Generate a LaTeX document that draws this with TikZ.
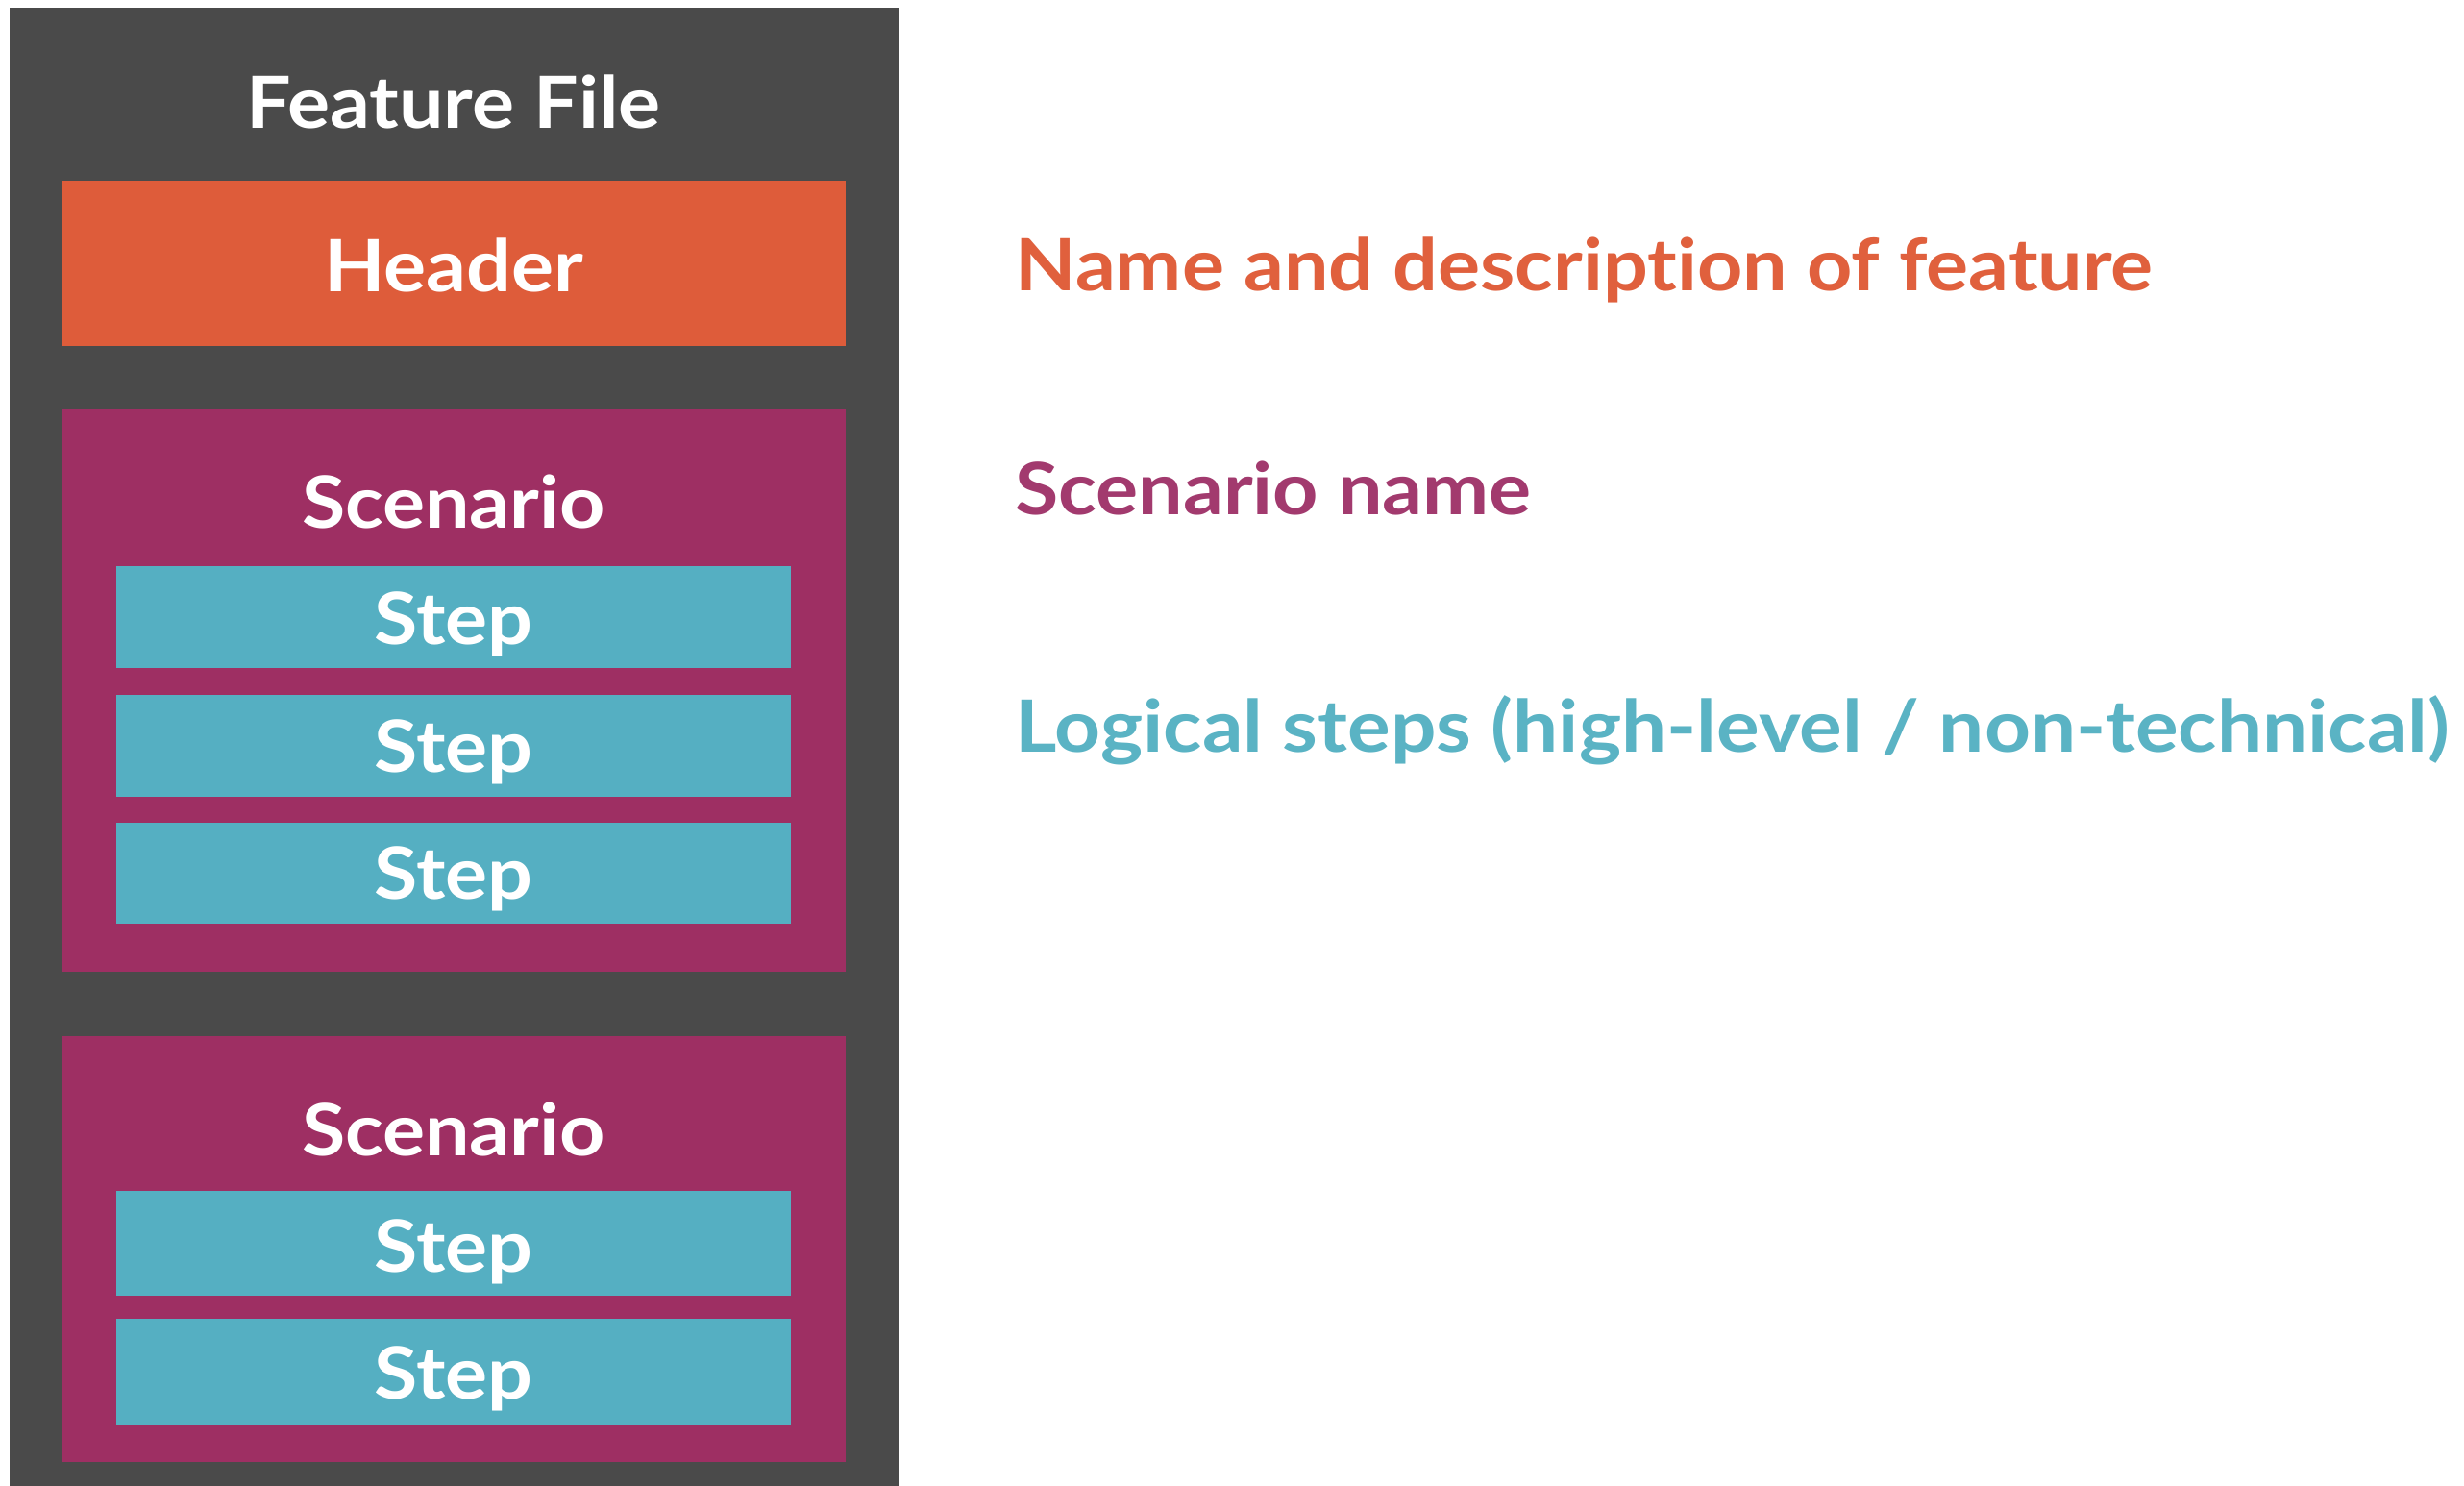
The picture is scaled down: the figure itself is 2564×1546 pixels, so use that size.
\documentclass[tikz,border=0pt]{standalone}
\usepackage{fontspec}
\usepackage{graphicx}
\setmainfont{Lato}[Ligatures=NoCommon]
\usetikzlibrary{fit}
\definecolor{panelgray}{HTML}{4A4A4A}
\definecolor{hdrorange}{HTML}{DE5C3A}
\definecolor{scnmagenta}{HTML}{9E2F63}
\definecolor{stepteal}{HTML}{55AFC2}
\definecolor{txtorange}{HTML}{E0603D}
\definecolor{txtmagenta}{HTML}{A23A6E}
\definecolor{txtteal}{HTML}{5AB3C4}
\newcommand{\widetxt}[1]{\scalebox{1.1}[1]{#1}}
\tikzset{
  boxfill/.style={inner sep=0pt, draw=none},
  boxlabel/.style={anchor=base, inner sep=0pt, text=white, font=\fontsize{37.5}{40}\selectfont\bfseries},
  sidelabel/.style={anchor=base west, inner sep=0pt, font=\fontsize{37.5}{40}\selectfont\bfseries},
}
\begin{document}
\begin{tikzpicture}[x=0.5pt,y=-0.5pt]
\useasboundingbox (0,0) rectangle (2564,1546);
\fill[white] (0,0) rectangle (2564,1546);
% panel
\node[boxfill, fit={(10,8) (935,1546)}, fill=panelgray] (panel) {};
\node[boxlabel] (paneltitle) at (472,134) {\widetxt{Feature File}};
% header
\node[boxfill, fit={(65,188) (880,360)}, fill=hdrorange] (header) {};
\node[boxlabel] (headertxt) at (472,304) {\widetxt{Header}};
% scenario 1
\node[boxfill, fit={(65,425) (880,1011)}, fill=scnmagenta] (scnA) {};
\node[boxlabel] (scnAtxt) at (472,549) {\widetxt{Scenario}};
\node[boxfill, fit={(121,589) (823,695)}, fill=stepteal] (stepA1) {};
\node[boxlabel] (stepA1txt) at (472,670) {\widetxt{Step}};
\node[boxfill, fit={(121,723) (823,829)}, fill=stepteal] (stepA2) {};
\node[boxlabel] (stepA2txt) at (472,803) {\widetxt{Step}};
\node[boxfill, fit={(121,856) (823,961)}, fill=stepteal] (stepA3) {};
\node[boxlabel] (stepA3txt) at (472,935) {\widetxt{Step}};
% scenario 2
\node[boxfill, fit={(65,1078) (880,1521)}, fill=scnmagenta] (scnB) {};
\node[boxlabel] (scnBtxt) at (472,1202) {\widetxt{Scenario}};
\node[boxfill, fit={(121,1239) (823,1348)}, fill=stepteal] (stepB1) {};
\node[boxlabel] (stepB1txt) at (472,1323) {\widetxt{Step}};
\node[boxfill, fit={(121,1372) (823,1483)}, fill=stepteal] (stepB2) {};
\node[boxlabel] (stepB2txt) at (472,1455) {\widetxt{Step}};
% side descriptions
\node[sidelabel, text=txtorange] (descHeader) at (1056,302) {\widetxt{Name and description of feature}};
\node[sidelabel, text=txtmagenta] (descScn) at (1056,535) {\widetxt{Scenario name}};
\node[sidelabel, text=txtteal] (descStep) at (1056,782) {\scalebox{1.115}[1]{Logical steps (high-level / non-technical)}};
\end{tikzpicture}
\end{document}
